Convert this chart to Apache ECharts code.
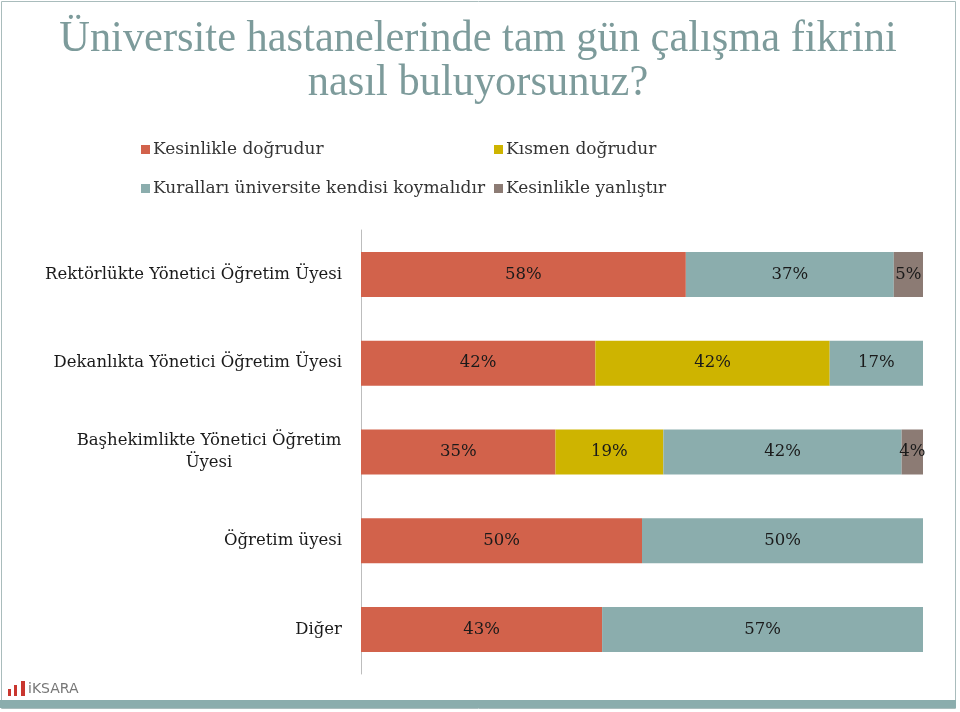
<!DOCTYPE html>
<html>
<head>
<meta charset="utf-8">
<script src="https://cdn.jsdelivr.net/npm/echarts@6/dist/echarts.min.js"></script>
<style>html,body{margin:0;padding:0;background:#fff}#c{width:960px;height:712px}</style>
</head>
<body>
<div id="c"></div>
<script>
const categories = ['Rektörlükte Yönetici Öğretim Üyesi', 'Dekanlıkta Yönetici Öğretim Üyesi', 'Başhekimlikte Yönetici Öğretim Üyesi', 'Öğretim üyesi', 'Diğer'];
const seriesNames = ['Kesinlikle doğrudur', 'Kısmen doğrudur', 'Kuralları üniversite kendisi koymalıdır', 'Kesinlikle yanlıştır'];
const kesinlikleDogru = [57.8, 41.7, 34.6, 50.0, 42.9];
const kismenDogru = [null, 41.7, 19.2, null, null];
const kurallar = [37.0, 16.6, 42.4, 50.0, 57.1];
const kesinlikleYanlis = [5.2, null, 3.8, null, null];
const titleLines = ['Üniversite hastanelerinde tam gün çalışma fikrini', 'nasıl buluyorsunuz?'];

const colors = ['#D2624B', '#CEB400', '#8BADAD', '#8C7B74'];
const serif = 'DejaVu Serif';
const values = [kesinlikleDogru, kismenDogru, kurallar, kesinlikleYanlis];

const chart = echarts.init(document.getElementById('c'), null, {renderer: 'canvas'});
const series = seriesNames.map((n, i) => ({
  name: n,
  type: 'bar',
  stack: 'total',
  data: values[i],
  barWidth: 45,
  itemStyle: {color: colors[i]},
  label: {
    show: true,
    position: 'inside',
    color: '#1a1a1a',
    fontFamily: serif,
    fontSize: 16.5,
    formatter: p => (p.value == null ? '' : Math.round(p.value) + '%')
  },
  emphasis: {disabled: true}
}));

const legendCommon = {
  orient: 'vertical',
  icon: 'rect',
  itemWidth: 9,
  itemHeight: 9,
  itemGap: 22,
  textStyle: {fontFamily: serif, fontSize: 17, color: '#333', padding: [0, 0, 0, -2]},
  selectedMode: false
};

chart.setOption({
  animation: false,
  color: colors,
  legend: [
    Object.assign({}, legendCommon, {left: 136, top: 136, data: [seriesNames[0], seriesNames[2]]}),
    Object.assign({}, legendCommon, {left: 489, top: 136, data: [seriesNames[1], seriesNames[3]]})
  ],
  grid: {left: 361, right: 37, top: 230, bottom: 38, containLabel: false},
  xAxis: {
    type: 'value', min: 0, max: 100, show: false
  },
  yAxis: {
    type: 'category',
    inverse: true,
    data: categories,
    axisLine: {show: true, lineStyle: {color: '#bdbdbd', width: 1}},
    axisTick: {show: false},
    axisLabel: {
      margin: 19,
      color: '#1a1a1a',
      fontFamily: serif,
      fontSize: 16.5,
      lineHeight: 22,
      formatter: v => v === categories[2]
        ? '{c|Başhekimlikte Yönetici Öğretim}\n{c|Üyesi}'
        : v,
      rich: {c: {width: 266, align: 'center', fontFamily: serif, fontSize: 16.5, color: '#1a1a1a', lineHeight: 22}}
    }
  },
  series: series,
  graphic: [
    {type: 'rect', shape: {x: 1.5, y: 1.5, width: 954, height: 707}, style: {fill: 'none', stroke: '#a9bcbc', lineWidth: 1}, silent: true},
    {type: 'rect', shape: {x: 0, y: 700, width: 956, height: 8}, style: {fill: '#8BADAD'}, silent: true},
    {type: 'text', x: 478, y: 17, scaleX: 0.964, originX: 0, style: {text: titleLines[0], font: '44px "Liberation Serif"', fill: '#7d9b9b', textAlign: 'center', textVerticalAlign: 'top'}, silent: true},
    {type: 'text', x: 478, y: 61, scaleX: 0.964, originX: 0, style: {text: titleLines[1], font: '44px "Liberation Serif"', fill: '#7d9b9b', textAlign: 'center', textVerticalAlign: 'top'}, silent: true},
    {type: 'rect', shape: {x: 8, y: 689, width: 3, height: 7}, style: {fill: '#c9362f'}, silent: true},
    {type: 'rect', shape: {x: 14, y: 685, width: 3, height: 11}, style: {fill: '#c9362f'}, silent: true},
    {type: 'rect', shape: {x: 21, y: 681, width: 4, height: 15}, style: {fill: '#c9362f'}, silent: true},
    {type: 'text', x: 28, y: 682, style: {text: 'iKSARA', font: '14px "DejaVu Sans"', fill: '#777', textVerticalAlign: 'top'}, silent: true}
  ]
});
</script>
</body>
</html>
